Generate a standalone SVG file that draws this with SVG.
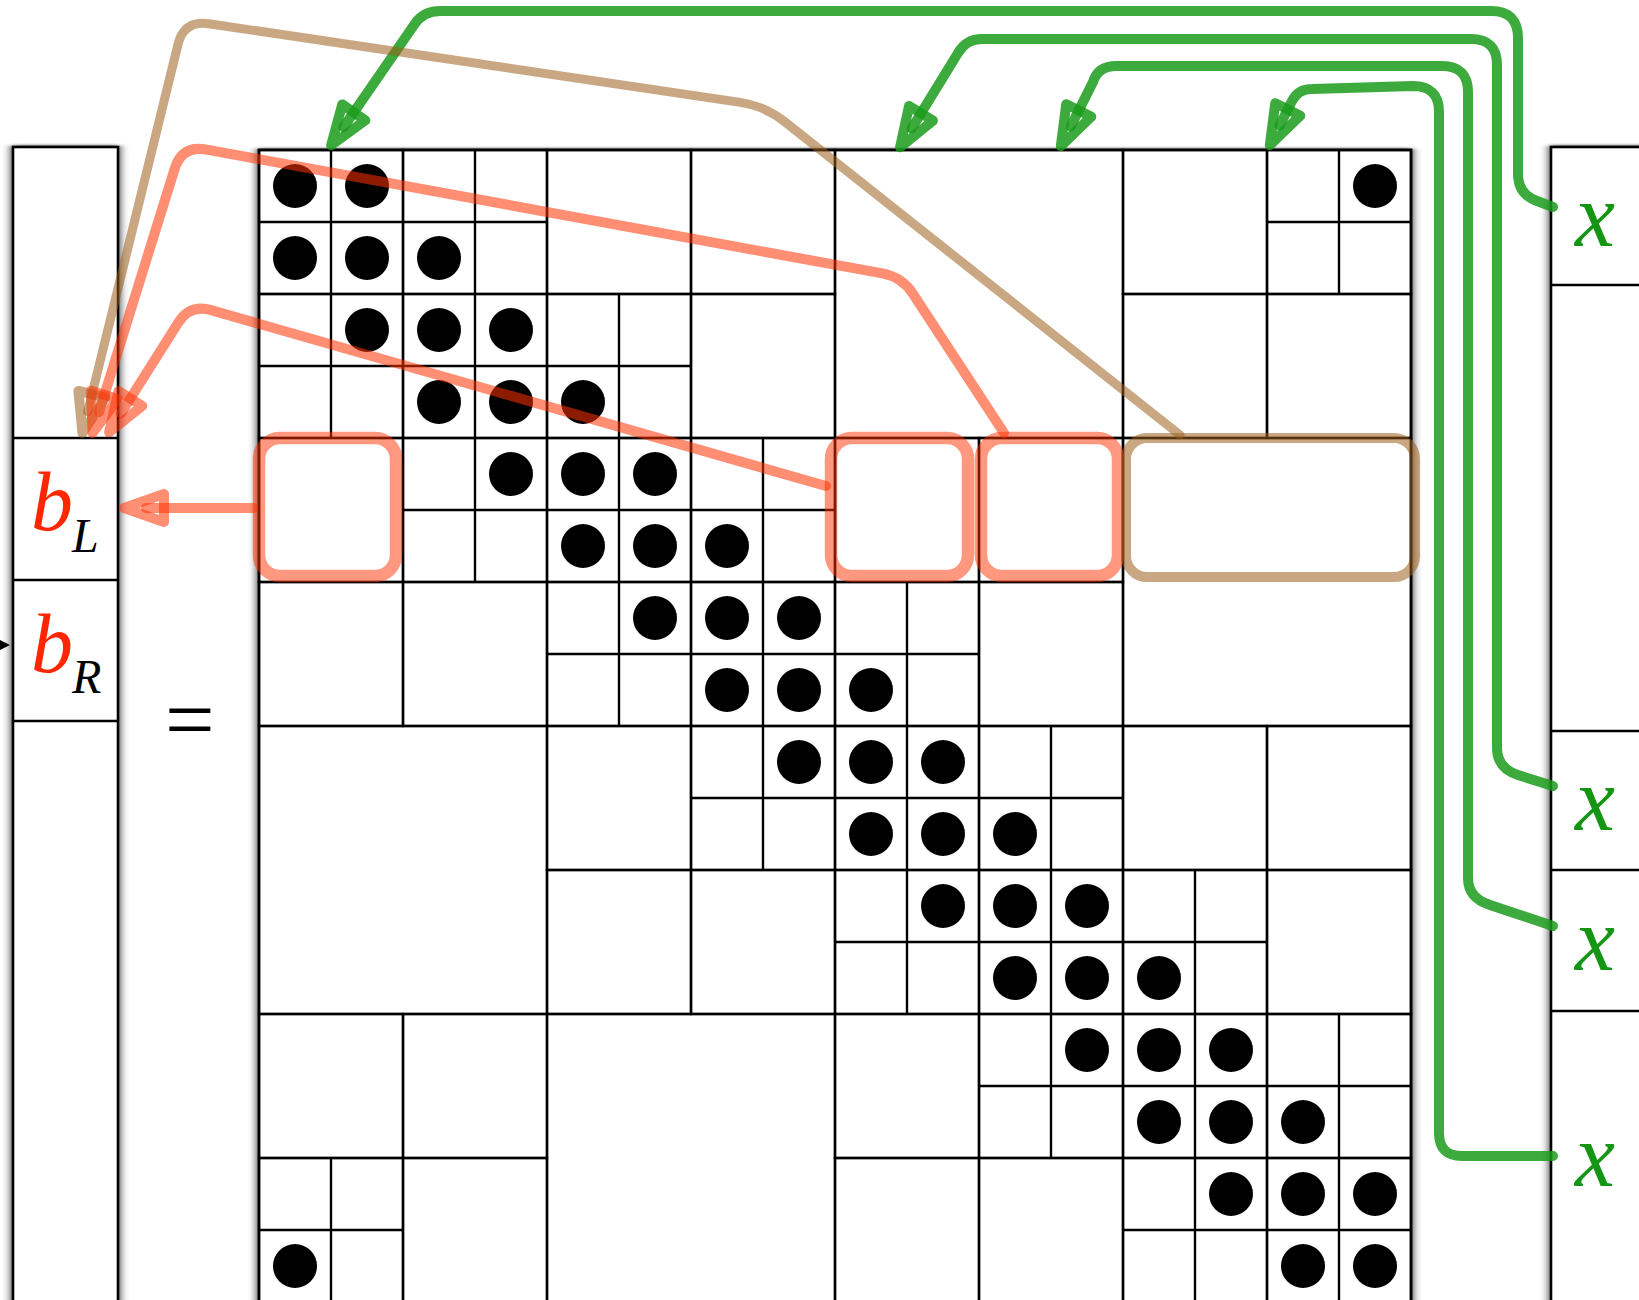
<svg xmlns="http://www.w3.org/2000/svg" xmlns:xlink="http://www.w3.org/1999/xlink" width="1639" height="1300" viewBox="0 0 1639 1300">
<style>
.frame{fill:#fff;stroke:#000;stroke-width:2.6}
.ln{stroke:#000;stroke-width:2.4;fill:none}
.cell{fill:none;stroke:#000;stroke-width:2.4}
.dot{fill:#000}
.g{fill:none;stroke:#1a9b1a;stroke-opacity:0.85;stroke-width:10;stroke-linecap:round;stroke-linejoin:round}
.r{fill:none;stroke:#ff3200;stroke-opacity:0.55;stroke-width:10;stroke-linecap:round;stroke-linejoin:round}
.br{fill:none;stroke:#9b5e1c;stroke-opacity:0.55;stroke-width:9;stroke-linecap:round;stroke-linejoin:round}
.rbox{fill:none;stroke:#ff3200;stroke-opacity:0.5;stroke-width:12.5}
.bbox{fill:none;stroke:#9b5e1c;stroke-opacity:0.55;stroke-width:10}
.bv{font-family:"Liberation Serif","Times New Roman",serif;font-style:italic;font-size:84px;fill:#ff2600}
.sub{font-family:"Liberation Serif","Times New Roman",serif;font-style:italic;font-size:48px;fill:#000}
.xv{font-family:"Liberation Serif","Times New Roman",serif;font-style:italic;font-size:90px;fill:#149614;text-anchor:middle}
.eq{font-family:"Liberation Serif","Times New Roman",serif;font-size:88px;fill:#000}
</style>
<defs>
<filter id="shadow" x="-25%" y="-5%" width="150%" height="110%">
<feGaussianBlur in="SourceAlpha" stdDeviation="5 1.5"/>
<feComponentTransfer><feFuncA type="linear" slope="0.9"/></feComponentTransfer>
<feMerge><feMergeNode/><feMergeNode in="SourceGraphic"/></feMerge>
</filter>
<g id="q4"><rect class="cell" width="144" height="144"/><line class="ln" x1="72" y1="0" x2="72" y2="144"/><line class="ln" x1="0" y1="72" x2="144" y2="72"/></g>
<rect id="b2" class="cell" width="144" height="144"/>
<rect id="b4" class="cell" width="288" height="288"/>
<marker id="ah-g" viewBox="-32 -32 64 64" markerWidth="64" markerHeight="64" markerUnits="userSpaceOnUse" refX="0" refY="0" orient="auto">
<path d="M-18,-14 L22,0 L-18,14 Z" fill="none" stroke="#1a9b1a" stroke-opacity="0.85" stroke-width="10" stroke-linejoin="round"/>
</marker>
<marker id="ah-r" viewBox="-32 -32 64 64" markerWidth="64" markerHeight="64" markerUnits="userSpaceOnUse" refX="0" refY="0" orient="auto">
<path d="M-18,-14 L22,0 L-18,14 Z" fill="none" stroke="#ff3200" stroke-opacity="0.55" stroke-width="10" stroke-linejoin="round"/>
</marker>
<marker id="ah-b" viewBox="-32 -32 64 64" markerWidth="64" markerHeight="64" markerUnits="userSpaceOnUse" refX="0" refY="0" orient="auto">
<path d="M-18,-14 L22,0 L-18,14 Z" fill="none" stroke="#9b5e1c" stroke-opacity="0.55" stroke-width="10" stroke-linejoin="round"/>
</marker>
</defs>
<rect width="1639" height="1300" fill="#fff"/>

<g id="vector-b">
<rect class="frame" x="13" y="147" width="105" height="1200" filter="url(#shadow)"/>
<line class="ln" x1="13" y1="438" x2="118" y2="438"/>
<line class="ln" x1="13" y1="580" x2="118" y2="580"/>
<line class="ln" x1="13" y1="721" x2="118" y2="721"/>
<text class="bv" x="31" y="530">b</text><text class="sub" x="72" y="552">L</text>
<text class="bv" x="31" y="672">b</text><text class="sub" x="72" y="693">R</text>
</g>
<polygon points="0,640 10,645 0,650" fill="#000"/>
<text class="eq" x="165" y="749">=</text>

<g id="matrix">
<rect class="frame" x="259" y="150" width="1152" height="1200" filter="url(#shadow)"/>
<use xlink:href="#q4" x="259" y="150"/><use xlink:href="#q4" x="403" y="150"/><use xlink:href="#q4" x="1267" y="150"/>
<use xlink:href="#q4" x="259" y="294"/><use xlink:href="#q4" x="403" y="294"/><use xlink:href="#q4" x="547" y="294"/>
<use xlink:href="#q4" x="403" y="438"/><use xlink:href="#q4" x="547" y="438"/><use xlink:href="#q4" x="691" y="438"/>
<use xlink:href="#q4" x="547" y="582"/><use xlink:href="#q4" x="691" y="582"/><use xlink:href="#q4" x="835" y="582"/>
<use xlink:href="#q4" x="691" y="726"/><use xlink:href="#q4" x="835" y="726"/><use xlink:href="#q4" x="979" y="726"/>
<use xlink:href="#q4" x="835" y="870"/><use xlink:href="#q4" x="979" y="870"/><use xlink:href="#q4" x="1123" y="870"/>
<use xlink:href="#q4" x="979" y="1014"/><use xlink:href="#q4" x="1123" y="1014"/><use xlink:href="#q4" x="1267" y="1014"/>
<use xlink:href="#q4" x="259" y="1158"/><use xlink:href="#q4" x="1123" y="1158"/><use xlink:href="#q4" x="1267" y="1158"/>
<use xlink:href="#b2" x="547" y="150"/><use xlink:href="#b2" x="691" y="150"/><use xlink:href="#b2" x="691" y="294"/>
<use xlink:href="#b2" x="259" y="438"/><use xlink:href="#b2" x="259" y="582"/><use xlink:href="#b2" x="403" y="582"/>
<use xlink:href="#b2" x="1123" y="150"/><use xlink:href="#b2" x="1123" y="294"/><use xlink:href="#b2" x="1267" y="294"/>
<use xlink:href="#b2" x="259" y="1014"/><use xlink:href="#b2" x="403" y="1014"/><use xlink:href="#b2" x="403" y="1158"/>
<use xlink:href="#b2" x="835" y="438"/><use xlink:href="#b2" x="979" y="438"/><use xlink:href="#b2" x="979" y="582"/>
<use xlink:href="#b2" x="547" y="726"/><use xlink:href="#b2" x="547" y="870"/><use xlink:href="#b2" x="691" y="870"/>
<use xlink:href="#b2" x="1123" y="726"/><use xlink:href="#b2" x="1267" y="726"/><use xlink:href="#b2" x="1267" y="870"/>
<use xlink:href="#b2" x="835" y="1014"/><use xlink:href="#b2" x="835" y="1158"/><use xlink:href="#b2" x="979" y="1158"/>
<use xlink:href="#b4" x="835" y="150"/><use xlink:href="#b4" x="259" y="726"/>
<use xlink:href="#b4" x="1123" y="438"/><use xlink:href="#b4" x="547" y="1014"/>
<g class="dot">
<circle cx="1375" cy="186" r="22"/><circle cx="295" cy="186" r="22"/><circle cx="367" cy="186" r="22"/>
<circle cx="295" cy="258" r="22"/><circle cx="367" cy="258" r="22"/><circle cx="439" cy="258" r="22"/>
<circle cx="367" cy="330" r="22"/><circle cx="439" cy="330" r="22"/><circle cx="511" cy="330" r="22"/>
<circle cx="439" cy="402" r="22"/><circle cx="511" cy="402" r="22"/><circle cx="583" cy="402" r="22"/>
<circle cx="511" cy="474" r="22"/><circle cx="583" cy="474" r="22"/><circle cx="655" cy="474" r="22"/>
<circle cx="583" cy="546" r="22"/><circle cx="655" cy="546" r="22"/><circle cx="727" cy="546" r="22"/>
<circle cx="655" cy="618" r="22"/><circle cx="727" cy="618" r="22"/><circle cx="799" cy="618" r="22"/>
<circle cx="727" cy="690" r="22"/><circle cx="799" cy="690" r="22"/><circle cx="871" cy="690" r="22"/>
<circle cx="799" cy="762" r="22"/><circle cx="871" cy="762" r="22"/><circle cx="943" cy="762" r="22"/>
<circle cx="871" cy="834" r="22"/><circle cx="943" cy="834" r="22"/><circle cx="1015" cy="834" r="22"/>
<circle cx="943" cy="906" r="22"/><circle cx="1015" cy="906" r="22"/><circle cx="1087" cy="906" r="22"/>
<circle cx="1015" cy="978" r="22"/><circle cx="1087" cy="978" r="22"/><circle cx="1159" cy="978" r="22"/>
<circle cx="1087" cy="1050" r="22"/><circle cx="1159" cy="1050" r="22"/><circle cx="1231" cy="1050" r="22"/>
<circle cx="1159" cy="1122" r="22"/><circle cx="1231" cy="1122" r="22"/><circle cx="1303" cy="1122" r="22"/>
<circle cx="1231" cy="1194" r="22"/><circle cx="1303" cy="1194" r="22"/><circle cx="1375" cy="1194" r="22"/>
<circle cx="1303" cy="1266" r="22"/><circle cx="1375" cy="1266" r="22"/><circle cx="295" cy="1266" r="22"/>
</g>
</g>

<g id="vector-x">
<rect class="frame" x="1551" y="147" width="200" height="1200" filter="url(#shadow)"/>
<line class="ln" x1="1551" y1="285" x2="1639" y2="285"/>
<line class="ln" x1="1551" y1="731" x2="1639" y2="731"/>
<line class="ln" x1="1551" y1="870" x2="1639" y2="870"/>
<line class="ln" x1="1551" y1="1011" x2="1639" y2="1011"/>
<text class="xv" x="1595" y="246">x</text>
<text class="xv" x="1595" y="830">x</text>
<text class="xv" x="1595" y="970">x</text>
<text class="xv" x="1595" y="1186">x</text>
</g>

<g id="box-left"><rect class="rbox" x="259" y="438" width="137" height="138" rx="21"/></g>
<g id="box-mid1"><rect class="rbox" x="831" y="438" width="137" height="138" rx="21"/></g>
<g id="box-mid2"><rect class="rbox" x="981" y="438" width="137" height="138" rx="21"/></g>
<g id="box-far"><rect class="bbox" x="1126" y="438" width="289" height="139" rx="21"/></g>

<g id="connectors">
<path class="g" marker-end="url(#ah-g)" d="M1553,207 L1537,201 Q1518,194 1518,174 L1518,38 Q1518,11 1491,11 L440,11 Q423,11 414,25 L343.6,127.2"/>
<path class="g" marker-end="url(#ah-g)" d="M1553,786 L1518,775 Q1497,768 1497,748 L1497,65 Q1497,39 1471,39 L982,39 Q966,39 958,53 L911.6,128.6"/>
<path class="g" marker-end="url(#ah-g)" d="M1553,926 L1490,905 Q1468,898 1468,878 L1468,92 Q1468,66 1442,66 L1116,66 Q1098,66 1093,82 L1070.7,126.5"/>
<path class="g" marker-end="url(#ah-g)" d="M1553,1156 L1462,1156 Q1439,1156 1439,1133 L1439,112 Q1439,86 1413,86 L1312,89 Q1298,89 1292,101 L1279.7,125.5"/>
<path class="br" marker-end="url(#ah-b)" d="M1180,435 L784.6,121.6 Q765,106 740.3,102.4 L208.7,23.7 Q184,20 178,44.3 L87.7,411.7"/>
<path class="r" marker-end="url(#ah-r)" d="M1004,433 L912.9,293.7 Q902,277 882.3,273.4 L206.6,149.6 Q182,145 174.6,168.9 L99.1,412.1"/>
<path class="r" marker-end="url(#ah-r)" d="M826,486 L211.1,310.1 Q190,304 178.3,322.6 L120.8,413.7"/>
<path class="r" marker-end="url(#ah-r)" d="M253,508 L146,508"/>
</g>
</svg>
